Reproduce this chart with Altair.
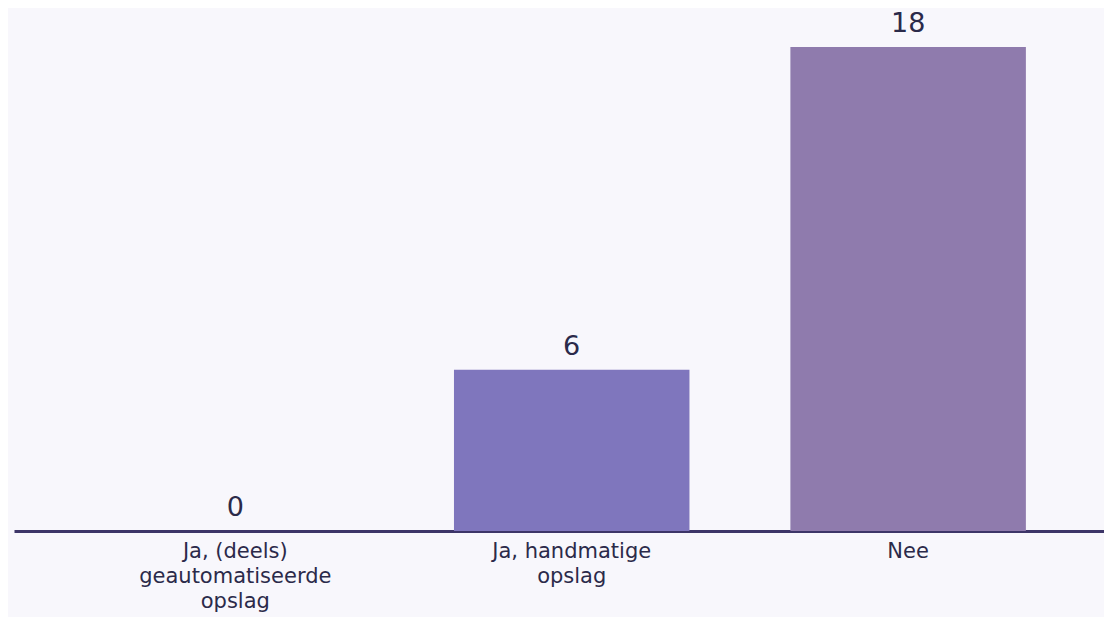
import altair as alt
import pandas as pd

categories = ["Ja, (deels)|geautomatiseerde|opslag", "Ja, handmatige|opslag", "Nee"]
values = [0, 6, 18]
colors = ["#7f76bd", "#7f76bd", "#8f7bad"]

df = pd.DataFrame({"cat": categories, "val": values, "col": colors})

FONT = "DejaVu Sans"

x = alt.X(
    "cat:N",
    sort=categories,
    title=None,
    scale=alt.Scale(paddingInner=0.3, paddingOuter=0.27, align=0.57),
    axis=alt.Axis(
        labelAngle=0,
        labelExpr="split(datum.label, '|')",
        labelFont=FONT,
        labelFontSize=21,
        labelLineHeight=25,
        labelLimit=0,
        labelColor="#2b2a4a",
        labelPadding=9,
        ticks=False,
        domainColor="#3d3568",
        domainWidth=3,
        grid=False,
    ),
)
y = alt.Y("val:Q", scale=alt.Scale(domain=[0, 19.26], nice=False), axis=None)

bars = alt.Chart(df).mark_bar().encode(x=x, y=y, color=alt.Color("col:N", scale=None))
labels = alt.Chart(df).mark_text(
    font=FONT, fontSize=27, color="#2b2a4a", baseline="bottom", dy=-9
).encode(x=x, y=y, text="val:Q")

chart = (
    alt.layer(bars, labels)
    .properties(
        width=1090,
        height=518,
        padding={"left": 6, "top": 5, "right": 0, "bottom": 86},
        autosize=alt.AutoSizeParams(type="none"),
        background="#f8f7fc",
    )
    .configure_view(stroke=None)
)

chart.save("out.html", embed_options={"renderer": "svg", "actions": False})
